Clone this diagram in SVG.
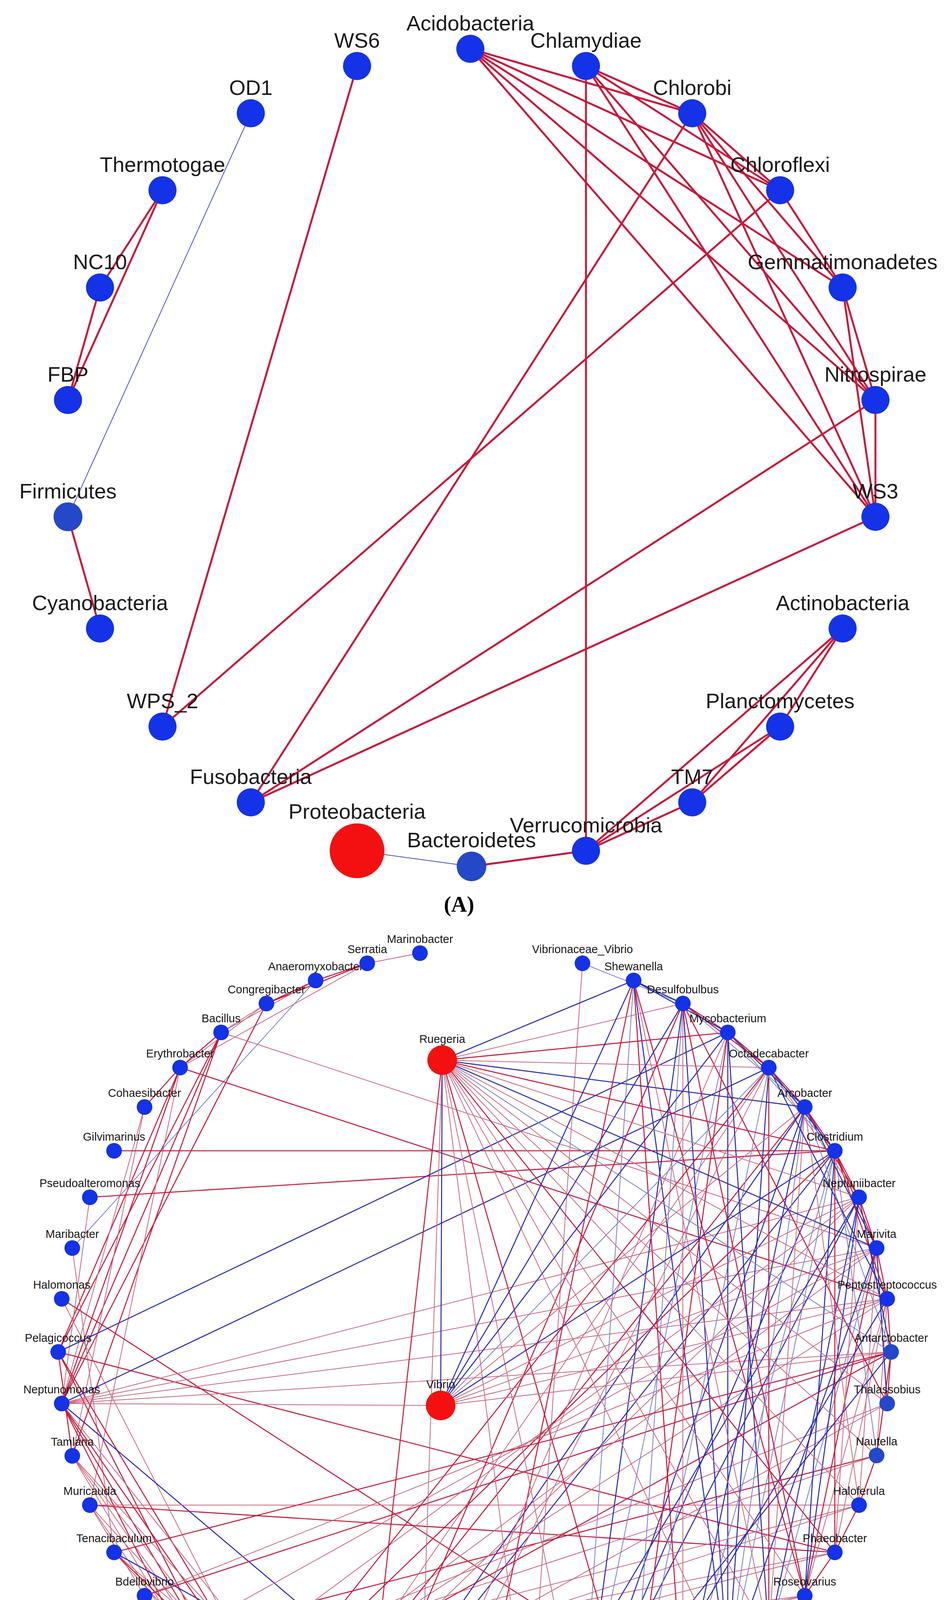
<svg xmlns="http://www.w3.org/2000/svg" width="2437" height="4614" viewBox="0 0 2437 4614">
<style>
.bg{fill:#fff}
.n{fill:#1432e8}
.d{fill:#2448c8}
.rd{fill:#f41010}
.g{fill:#5cb85c}
.la{font-family:"Liberation Sans",Arial,sans-serif;font-size:54px;fill:#1a1a1a;text-anchor:middle}
.lb{font-family:"Liberation Sans",Arial,sans-serif;font-size:29px;fill:#1a1a1a;text-anchor:middle}
.cap{font-family:"Liberation Serif","Times New Roman",serif;font-size:56px;font-weight:bold;fill:#000;text-anchor:middle}
.A line{stroke:#c8193c;stroke-width:5}
.A line.b{stroke:#4a52c0;stroke-width:2}
#edgesB line{stroke-width:2.6}
#edgesB .r{stroke:#c8193c}
#edgesB .p{stroke:#c86a80;stroke-width:2}
#edgesB .b{stroke:#2a2db5}
#edgesB .q{stroke:#7a80c8;stroke-width:2}
</style>
<rect class="bg" x="0" y="0" width="2437" height="4614"/>

<g id="edgesA" class="A">
<line x1="1204" y1="125" x2="1772" y2="290"/>
<line x1="1204" y1="125" x2="1997" y2="487"/>
<line x1="1204" y1="125" x2="2157" y2="736"/>
<line x1="1204" y1="125" x2="2241" y2="1024"/>
<line x1="1204" y1="125" x2="2241" y2="1323"/>
<line x1="1500" y1="169" x2="1772" y2="290"/>
<line x1="1500" y1="169" x2="1997" y2="487"/>
<line x1="1500" y1="169" x2="2241" y2="1024"/>
<line x1="1500" y1="169" x2="2241" y2="1323"/>
<line x1="1500" y1="169" x2="1500" y2="2178"/>
<line x1="1772" y1="290" x2="1997" y2="487"/>
<line x1="1772" y1="290" x2="2157" y2="736"/>
<line x1="1772" y1="290" x2="2241" y2="1024"/>
<line x1="1772" y1="290" x2="2241" y2="1323"/>
<line x1="1772" y1="290" x2="642" y2="2054"/>
<line x1="1997" y1="487" x2="2157" y2="736"/>
<line x1="1997" y1="487" x2="416" y2="1860"/>
<line x1="2157" y1="736" x2="2241" y2="1024"/>
<line x1="2157" y1="736" x2="2241" y2="1323"/>
<line x1="2241" y1="1024" x2="2241" y2="1323"/>
<line x1="2241" y1="1024" x2="642" y2="2054"/>
<line x1="2241" y1="1323" x2="642" y2="2054"/>
<line x1="2157" y1="1609" x2="1997" y2="1860"/>
<line x1="2157" y1="1609" x2="1772" y2="2054"/>
<line x1="2157" y1="1609" x2="1500" y2="2178"/>
<line x1="1997" y1="1860" x2="1772" y2="2054"/>
<line x1="1997" y1="1860" x2="1500" y2="2178"/>
<line x1="1772" y1="2054" x2="1500" y2="2178"/>
<line x1="1500" y1="2178" x2="1207" y2="2218"/>
<line class="b" x1="1207" y1="2218" x2="914" y2="2178"/>
<line x1="914" y1="169" x2="416" y2="1860"/>
<line class="b" x1="642" y1="290" x2="174" y2="1323"/>
<line x1="416" y1="487" x2="256" y2="736"/>
<line x1="416" y1="487" x2="174" y2="1024"/>
<line x1="256" y1="736" x2="174" y2="1024"/>
<line x1="174" y1="1323" x2="256" y2="1609"/>
</g>

<g id="nodesA">
<g id="Acidobacteria"><circle class="n" cx="1204" cy="125" r="36"/><text class="la" x="1204" y="78">Acidobacteria</text></g>
<g id="Chlamydiae"><circle class="n" cx="1500" cy="169" r="36"/><text class="la" x="1500" y="122">Chlamydiae</text></g>
<g id="Chlorobi"><circle class="n" cx="1772" cy="290" r="36"/><text class="la" x="1772" y="243">Chlorobi</text></g>
<g id="Chloroflexi"><circle class="n" cx="1997" cy="487" r="36"/><text class="la" x="1997" y="440">Chloroflexi</text></g>
<g id="Gemmatimonadetes"><circle class="n" cx="2157" cy="736" r="36"/><text class="la" x="2157" y="689">Gemmatimonadetes</text></g>
<g id="Nitrospirae"><circle class="n" cx="2241" cy="1024" r="36"/><text class="la" x="2241" y="977">Nitrospirae</text></g>
<g id="WS3"><circle class="n" cx="2241" cy="1323" r="36"/><text class="la" x="2241" y="1276">WS3</text></g>
<g id="Actinobacteria"><circle class="n" cx="2157" cy="1609" r="36"/><text class="la" x="2157" y="1562">Actinobacteria</text></g>
<g id="Planctomycetes"><circle class="n" cx="1997" cy="1860" r="36"/><text class="la" x="1997" y="1813">Planctomycetes</text></g>
<g id="TM7"><circle class="n" cx="1772" cy="2054" r="36"/><text class="la" x="1772" y="2007">TM7</text></g>
<g id="Verrucomicrobia"><circle class="n" cx="1500" cy="2178" r="36"/><text class="la" x="1500" y="2131">Verrucomicrobia</text></g>
<g id="Bacteroidetes"><circle class="d" cx="1207" cy="2218" r="38"/><text class="la" x="1207" y="2169">Bacteroidetes</text></g>
<g id="Proteobacteria"><circle class="rd" cx="914" cy="2178" r="70"/><text class="la" x="914" y="2096">Proteobacteria</text></g>
<g id="Fusobacteria"><circle class="n" cx="642" cy="2054" r="36"/><text class="la" x="642" y="2007">Fusobacteria</text></g>
<g id="WPS_2"><circle class="n" cx="416" cy="1860" r="36"/><text class="la" x="416" y="1813">WPS_2</text></g>
<g id="Cyanobacteria"><circle class="n" cx="256" cy="1609" r="36"/><text class="la" x="256" y="1562">Cyanobacteria</text></g>
<g id="Firmicutes"><circle class="d" cx="174" cy="1323" r="37"/><text class="la" x="174" y="1276">Firmicutes</text></g>
<g id="FBP"><circle class="n" cx="174" cy="1024" r="36"/><text class="la" x="174" y="977">FBP</text></g>
<g id="NC10"><circle class="n" cx="256" cy="736" r="36"/><text class="la" x="256" y="689">NC10</text></g>
<g id="Thermotogae"><circle class="n" cx="416" cy="487" r="36"/><text class="la" x="416" y="440">Thermotogae</text></g>
<g id="OD1"><circle class="n" cx="642" cy="290" r="36"/><text class="la" x="642" y="243">OD1</text></g>
<g id="WS6"><circle class="n" cx="914" cy="169" r="36"/><text class="la" x="914" y="122">WS6</text></g>
</g>
<text class="cap" x="1175" y="2334">(A)</text>

<g id="edgesB">
<line class="p" x1="1075" y1="2440" x2="940" y2="2466"/>
<line class="r" x1="940" y1="2466" x2="808" y2="2510"/>
<line class="r" x1="940" y1="2466" x2="682" y2="2569"/>
<line class="p" x1="940" y1="2466" x2="461" y2="2733"/>
<line class="r" x1="808" y1="2510" x2="682" y2="2569"/>
<line class="p" x1="808" y1="2510" x2="566" y2="2643"/>
<line class="q" x1="808" y1="2510" x2="185" y2="3195"/>
<line class="p" x1="682" y1="2569" x2="566" y2="2643"/>
<line class="r" x1="682" y1="2569" x2="158" y2="3593"/>
<line class="p" x1="682" y1="2569" x2="461" y2="2733"/>
<line class="r" x1="566" y1="2643" x2="461" y2="2733"/>
<line class="r" x1="566" y1="2643" x2="158" y2="3593"/>
<line class="r" x1="566" y1="2643" x2="185" y2="3727"/>
<line class="p" x1="566" y1="2643" x2="2244" y2="3195"/>
<line class="r" x1="566" y1="2643" x2="149" y2="3461"/>
<line class="r" x1="461" y1="2733" x2="2271" y2="3325"/>
<line class="r" x1="461" y1="2733" x2="149" y2="3461"/>
<line class="r" x1="461" y1="2733" x2="158" y2="3593"/>
<line class="r" x1="461" y1="2733" x2="370" y2="2834"/>
<line class="p" x1="461" y1="2733" x2="230" y2="3853"/>
<line class="p" x1="370" y1="2834" x2="158" y2="3593"/>
<line class="p" x1="370" y1="2834" x2="185" y2="3727"/>
<line class="r" x1="292" y1="2946" x2="2137" y2="2946"/>
<line class="r" x1="230" y1="3065" x2="2137" y2="2946"/>
<line class="p" x1="230" y1="3065" x2="158" y2="3593"/>
<line class="p" x1="185" y1="3195" x2="292" y2="3974"/>
<line class="r" x1="158" y1="3325" x2="1748" y2="4352"/>
<line class="p" x1="158" y1="3325" x2="682" y2="4350"/>
<line class="b" x1="149" y1="3461" x2="1863" y2="2643"/>
<line class="r" x1="149" y1="3461" x2="185" y2="3727"/>
<line class="r" x1="149" y1="3461" x2="566" y2="4275"/>
<line class="r" x1="149" y1="3461" x2="682" y2="4350"/>
<line class="r" x1="149" y1="3461" x2="2137" y2="3974"/>
<line class="b" x1="158" y1="3593" x2="1968" y2="2733"/>
<line class="p" x1="158" y1="3593" x2="2281" y2="3461"/>
<line class="p" x1="158" y1="3593" x2="2271" y2="3325"/>
<line class="p" x1="158" y1="3593" x2="2244" y2="3195"/>
<line class="p" x1="158" y1="3593" x2="2199" y2="3065"/>
<line class="b" x1="158" y1="3593" x2="1216" y2="4487"/>
<line class="r" x1="158" y1="3593" x2="682" y2="4350"/>
<line class="r" x1="158" y1="3593" x2="566" y2="4275"/>
<line class="r" x1="158" y1="3593" x2="461" y2="4187"/>
<line class="p" x1="158" y1="3593" x2="808" y2="4410"/>
<line class="p" x1="185" y1="3727" x2="682" y2="4350"/>
<line class="p" x1="185" y1="3727" x2="566" y2="4275"/>
<line class="p" x1="185" y1="3727" x2="808" y2="4410"/>
<line class="p" x1="185" y1="3727" x2="461" y2="4187"/>
<line class="p" x1="230" y1="3853" x2="370" y2="4085"/>
<line class="p" x1="230" y1="3853" x2="461" y2="4187"/>
<line class="p" x1="230" y1="3853" x2="682" y2="4350"/>
<line class="r" x1="230" y1="3853" x2="2137" y2="3974"/>
<line class="p" x1="230" y1="3853" x2="2199" y2="3853"/>
<line class="p" x1="292" y1="3974" x2="808" y2="4410"/>
<line class="p" x1="292" y1="3974" x2="566" y2="4275"/>
<line class="b" x1="292" y1="3974" x2="1216" y2="4487"/>
<line class="r" x1="292" y1="3974" x2="682" y2="4350"/>
<line class="r" x1="370" y1="4085" x2="2281" y2="3461"/>
<line class="p" x1="370" y1="4085" x2="566" y2="4275"/>
<line class="r" x1="461" y1="4187" x2="2244" y2="3726"/>
<line class="p" x1="461" y1="4187" x2="808" y2="4410"/>
<line class="r" x1="566" y1="4275" x2="1863" y2="4275"/>
<line class="p" x1="566" y1="4275" x2="2060" y2="4085"/>
<line class="p" x1="566" y1="4275" x2="2137" y2="3974"/>
<line class="p" x1="566" y1="4275" x2="1968" y2="4187"/>
<line class="p" x1="566" y1="4275" x2="2199" y2="3853"/>
<line class="p" x1="566" y1="4275" x2="2244" y2="3726"/>
<line class="p" x1="566" y1="4275" x2="2271" y2="3593"/>
<line class="r" x1="682" y1="4350" x2="2281" y2="3461"/>
<line class="p" x1="682" y1="4350" x2="2271" y2="3325"/>
<line class="p" x1="682" y1="4350" x2="2244" y2="3195"/>
<line class="p" x1="682" y1="4350" x2="2060" y2="4085"/>
<line class="p" x1="682" y1="4350" x2="2137" y2="3974"/>
<line class="p" x1="682" y1="4350" x2="2199" y2="3853"/>
<line class="r" x1="682" y1="4350" x2="808" y2="4410"/>
<line class="p" x1="808" y1="4410" x2="2199" y2="3065"/>
<line class="p" x1="808" y1="4410" x2="2271" y2="3593"/>
<line class="p" x1="808" y1="4410" x2="2060" y2="4085"/>
<line class="p" x1="808" y1="4410" x2="1968" y2="4187"/>
<line class="r" x1="808" y1="4410" x2="2060" y2="2834"/>
<line class="r" x1="940" y1="4454" x2="1075" y2="4478"/>
<line class="p" x1="940" y1="4454" x2="1355" y2="4478"/>
<line class="p" x1="940" y1="4454" x2="1216" y2="4487"/>
<line class="b" x1="940" y1="4454" x2="2137" y2="2946"/>
<line class="b" x1="940" y1="4454" x2="2060" y2="2834"/>
<line class="p" x1="1075" y1="4478" x2="1216" y2="4487"/>
<line class="p" x1="1075" y1="4478" x2="1968" y2="2733"/>
<line class="p" x1="1216" y1="4487" x2="1355" y2="4478"/>
<line class="q" x1="1216" y1="4487" x2="1491" y2="4452"/>
<line class="p" x1="1491" y1="2466" x2="1355" y2="4478"/>
<line class="q" x1="1491" y1="2466" x2="1748" y2="2569"/>
<line class="b" x1="1491" y1="4452" x2="2060" y2="2834"/>
<line class="b" x1="1491" y1="4452" x2="2137" y2="2946"/>
<line class="b" x1="1491" y1="4452" x2="2199" y2="3065"/>
<line class="q" x1="1491" y1="4452" x2="1863" y2="2643"/>
<line class="q" x1="1491" y1="4452" x2="1622" y2="2510"/>
<line class="b" x1="1491" y1="4452" x2="1748" y2="2569"/>
<line class="r" x1="1491" y1="4452" x2="1622" y2="4411"/>
<line class="r" x1="1622" y1="4411" x2="1132" y2="2714"/>
<line class="q" x1="1622" y1="4411" x2="1748" y2="2569"/>
<line class="q" x1="1622" y1="4411" x2="1968" y2="2733"/>
<line class="r" x1="1622" y1="4411" x2="1748" y2="4352"/>
<line class="r" x1="1748" y1="4352" x2="1622" y2="2510"/>
<line class="r" x1="1748" y1="4352" x2="1863" y2="4275"/>
<line class="b" x1="1863" y1="4275" x2="1622" y2="2510"/>
<line class="b" x1="1863" y1="4275" x2="1748" y2="2569"/>
<line class="b" x1="1863" y1="4275" x2="1863" y2="2643"/>
<line class="b" x1="1863" y1="4275" x2="1968" y2="2733"/>
<line class="q" x1="1863" y1="4275" x2="2060" y2="2834"/>
<line class="q" x1="1863" y1="4275" x2="2137" y2="2946"/>
<line class="r" x1="1863" y1="4275" x2="1968" y2="4187"/>
<line class="r" x1="1863" y1="4275" x2="2060" y2="4085"/>
<line class="b" x1="1968" y1="4187" x2="2199" y2="3065"/>
<line class="q" x1="1968" y1="4187" x2="2244" y2="3195"/>
<line class="r" x1="1968" y1="4187" x2="1968" y2="2733"/>
<line class="p" x1="1968" y1="4187" x2="2060" y2="2834"/>
<line class="r" x1="1968" y1="4187" x2="2060" y2="4085"/>
<line class="r" x1="2060" y1="4085" x2="2244" y2="3195"/>
<line class="p" x1="2060" y1="4085" x2="2271" y2="3325"/>
<line class="b" x1="2060" y1="4085" x2="2199" y2="3065"/>
<line class="b" x1="2060" y1="4085" x2="2137" y2="2946"/>
<line class="r" x1="2060" y1="4085" x2="2137" y2="3974"/>
<line class="p" x1="2137" y1="3974" x2="2199" y2="3065"/>
<line class="p" x1="2137" y1="3974" x2="2271" y2="3325"/>
<line class="r" x1="2137" y1="3974" x2="2137" y2="2946"/>
<line class="r" x1="2137" y1="3974" x2="2199" y2="3853"/>
<line class="p" x1="2199" y1="3853" x2="2244" y2="3195"/>
<line class="p" x1="2199" y1="3853" x2="2060" y2="2834"/>
<line class="r" x1="2199" y1="3853" x2="2244" y2="3726"/>
<line class="p" x1="2244" y1="3726" x2="2271" y2="3325"/>
<line class="r" x1="2244" y1="3726" x2="2281" y2="3461"/>
<line class="q" x1="2244" y1="3726" x2="2137" y2="2946"/>
<line class="r" x1="2271" y1="3593" x2="2281" y2="3461"/>
<line class="b" x1="2271" y1="3593" x2="2244" y2="3195"/>
<line class="r" x1="2271" y1="3593" x2="1748" y2="2569"/>
<line class="r" x1="2281" y1="3461" x2="2271" y2="3325"/>
<line class="b" x1="2281" y1="3461" x2="2199" y2="3065"/>
<line class="q" x1="2281" y1="3461" x2="2060" y2="2834"/>
<line class="r" x1="2271" y1="3325" x2="2244" y2="3195"/>
<line class="r" x1="2271" y1="3325" x2="2137" y2="2946"/>
<line class="b" x1="2271" y1="3325" x2="1968" y2="2733"/>
<line class="r" x1="2244" y1="3195" x2="2199" y2="3065"/>
<line class="b" x1="2244" y1="3195" x2="2060" y2="2834"/>
<line class="r" x1="2244" y1="3195" x2="2137" y2="2946"/>
<line class="r" x1="2199" y1="3065" x2="2137" y2="2946"/>
<line class="r" x1="2199" y1="3065" x2="2060" y2="2834"/>
<line class="p" x1="2199" y1="3065" x2="1968" y2="2733"/>
<line class="r" x1="2137" y1="2946" x2="2060" y2="2834"/>
<line class="b" x1="2137" y1="2946" x2="1968" y2="2733"/>
<line class="q" x1="2137" y1="2946" x2="1863" y2="2643"/>
<line class="r" x1="2060" y1="2834" x2="1968" y2="2733"/>
<line class="b" x1="2060" y1="2834" x2="1863" y2="2643"/>
<line class="q" x1="2060" y1="2834" x2="1748" y2="2569"/>
<line class="r" x1="1968" y1="2733" x2="1863" y2="2643"/>
<line class="r" x1="1968" y1="2733" x2="1748" y2="2569"/>
<line class="r" x1="1863" y1="2643" x2="1748" y2="2569"/>
<line class="b" x1="1748" y1="2569" x2="1622" y2="2510"/>
<line class="b" x1="1863" y1="2643" x2="1622" y2="2510"/>
<line class="r" x1="2137" y1="2946" x2="682" y2="4350"/>
<line class="p" x1="2199" y1="3065" x2="566" y2="4275"/>
<line class="p" x1="2244" y1="3195" x2="461" y2="4187"/>
<line class="p" x1="2271" y1="3325" x2="370" y2="4085"/>
<line class="r" x1="2281" y1="3461" x2="292" y2="3974"/>
<line class="p" x1="1968" y1="2733" x2="808" y2="4410"/>
<line class="r" x1="1863" y1="2643" x2="1622" y2="4411"/>
<line class="p" x1="1748" y1="2569" x2="1748" y2="4352"/>
<line class="r" x1="1622" y1="2510" x2="2060" y2="4085"/>
<line class="p" x1="1622" y1="2510" x2="1968" y2="4187"/>
<line class="r" x1="1748" y1="2569" x2="2060" y2="4085"/>
<line class="b" x1="1863" y1="2643" x2="1968" y2="4187"/>
<line class="r" x1="1622" y1="2510" x2="1216" y2="4487"/>
<line class="r" x1="1748" y1="2569" x2="940" y2="4454"/>
<line class="p" x1="1863" y1="2643" x2="1075" y2="4478"/>
<line class="r" x1="1968" y1="2733" x2="682" y2="4350"/>
<line class="b" x1="2060" y1="2834" x2="1748" y2="4352"/>
<line class="q" x1="2137" y1="2946" x2="1748" y2="4352"/>
<line class="b" x1="2199" y1="3065" x2="1355" y2="4478"/>
<line class="b" x1="2244" y1="3195" x2="1863" y2="4275"/>
<line class="b" x1="2271" y1="3325" x2="1622" y2="4411"/>
<line class="b" x1="2281" y1="3461" x2="1491" y2="4452"/>
<line class="b" x1="1132" y1="2714" x2="1128" y2="3598"/>
<line class="b" x1="1132" y1="2714" x2="1622" y2="2510"/>
<line class="r" x1="1132" y1="2714" x2="1863" y2="2643"/>
<line class="p" x1="1132" y1="2714" x2="1748" y2="2569"/>
<line class="p" x1="1132" y1="2714" x2="1968" y2="2733"/>
<line class="b" x1="1132" y1="2714" x2="2060" y2="2834"/>
<line class="r" x1="1132" y1="2714" x2="2137" y2="2946"/>
<line class="p" x1="1132" y1="2714" x2="2199" y2="3065"/>
<line class="b" x1="1132" y1="2714" x2="2244" y2="3195"/>
<line class="p" x1="1132" y1="2714" x2="2271" y2="3325"/>
<line class="q" x1="1132" y1="2714" x2="2281" y2="3461"/>
<line class="p" x1="1132" y1="2714" x2="2271" y2="3593"/>
<line class="p" x1="1132" y1="2714" x2="2244" y2="3726"/>
<line class="p" x1="1132" y1="2714" x2="2199" y2="3853"/>
<line class="r" x1="1132" y1="2714" x2="2137" y2="3974"/>
<line class="p" x1="1132" y1="2714" x2="2060" y2="4085"/>
<line class="p" x1="1132" y1="2714" x2="1968" y2="4187"/>
<line class="p" x1="1132" y1="2714" x2="1863" y2="4275"/>
<line class="p" x1="1132" y1="2714" x2="1491" y2="4452"/>
<line class="p" x1="1132" y1="2714" x2="1355" y2="4478"/>
<line class="r" x1="1132" y1="2714" x2="940" y2="4454"/>
<line class="p" x1="1132" y1="2714" x2="1075" y2="4478"/>
<line class="b" x1="1128" y1="3598" x2="1622" y2="2510"/>
<line class="b" x1="1128" y1="3598" x2="1748" y2="2569"/>
<line class="b" x1="1128" y1="3598" x2="1863" y2="2643"/>
<line class="q" x1="1128" y1="3598" x2="1968" y2="2733"/>
<line class="p" x1="1128" y1="3598" x2="2060" y2="2834"/>
<line class="b" x1="1128" y1="3598" x2="2137" y2="2946"/>
<line class="p" x1="1128" y1="3598" x2="2199" y2="3065"/>
<line class="p" x1="1128" y1="3598" x2="2244" y2="3195"/>
<line class="p" x1="1128" y1="3598" x2="2271" y2="3325"/>
<line class="p" x1="1128" y1="3598" x2="2281" y2="3461"/>
<line class="p" x1="1128" y1="3598" x2="158" y2="3593"/>
</g>

<g id="nodesB">
<g id="Ruegeria"><circle class="rd" cx="1132" cy="2714" r="38"/><text class="lb" x="1132" y="2670">Ruegeria</text></g>
<g id="Vibrio"><circle class="rd" cx="1128" cy="3598" r="38"/><text class="lb" x="1128" y="3554">Vibrio</text></g>
<g id="Vibrionaceae_Vibrio"><circle class="n" cx="1491" cy="2466" r="20"/><text class="lb" x="1491" y="2440">Vibrionaceae_Vibrio</text></g>
<g id="Shewanella"><circle class="n" cx="1622" cy="2510" r="20"/><text class="lb" x="1622" y="2484">Shewanella</text></g>
<g id="Desulfobulbus"><circle class="n" cx="1748" cy="2569" r="20"/><text class="lb" x="1748" y="2543">Desulfobulbus</text></g>
<g id="Mycobacterium"><circle class="n" cx="1863" cy="2643" r="20"/><text class="lb" x="1863" y="2617">Mycobacterium</text></g>
<g id="Octadecabacter"><circle class="n" cx="1968" cy="2733" r="20"/><text class="lb" x="1968" y="2707">Octadecabacter</text></g>
<g id="Arcobacter"><circle class="n" cx="2060" cy="2834" r="20"/><text class="lb" x="2060" y="2808">Arcobacter</text></g>
<g id="Clostridium"><circle class="n" cx="2137" cy="2946" r="20"/><text class="lb" x="2137" y="2920">Clostridium</text></g>
<g id="Neptuniibacter"><circle class="n" cx="2199" cy="3065" r="20"/><text class="lb" x="2199" y="3039">Neptuniibacter</text></g>
<g id="Marivita"><circle class="n" cx="2244" cy="3195" r="20"/><text class="lb" x="2244" y="3169">Marivita</text></g>
<g id="Peptostreptococcus"><circle class="n" cx="2271" cy="3325" r="20"/><text class="lb" x="2271" y="3299">Peptostreptococcus</text></g>
<g id="Antarctobacter"><circle class="d" cx="2281" cy="3461" r="20"/><text class="lb" x="2281" y="3435">Antarctobacter</text></g>
<g id="Thalassobius"><circle class="d" cx="2271" cy="3593" r="20"/><text class="lb" x="2271" y="3567">Thalassobius</text></g>
<g id="Nautella"><circle class="d" cx="2244" cy="3726" r="20"/><text class="lb" x="2244" y="3700">Nautella</text></g>
<g id="Haloferula"><circle class="n" cx="2199" cy="3853" r="20"/><text class="lb" x="2199" y="3827">Haloferula</text></g>
<g id="Phaeobacter"><circle class="n" cx="2137" cy="3974" r="20"/><text class="lb" x="2137" y="3948">Phaeobacter</text></g>
<g id="Roseovarius"><circle class="n" cx="2060" cy="4085" r="20"/><text class="lb" x="2060" y="4059">Roseovarius</text></g>
<g id="Amaricoccus"><circle class="n" cx="1968" cy="4187" r="20"/><text class="lb" x="1968" y="4161">Amaricoccus</text></g>
<g id="Anaerospora"><circle class="n" cx="1863" cy="4275" r="20"/><text class="lb" x="1863" y="4249">Anaerospora</text></g>
<g id="Paracoccus"><circle class="n" cx="1748" cy="4352" r="20"/><text class="lb" x="1748" y="4326">Paracoccus</text></g>
<g id="Fusibacter"><circle class="g" cx="1622" cy="4411" r="26"/><text class="lb" x="1622" y="4379">Fusibacter</text></g>
<g id="Photobacterium"><circle class="g" cx="1491" cy="4452" r="26"/><text class="lb" x="1480" y="4420">Photobacterium</text></g>
<g id="Achromobacter"><circle class="n" cx="1355" cy="4478" r="20"/><text class="lb" x="1340" y="4450">Achromobacter</text></g>
<g id="Ralstonia"><circle class="n" cx="1216" cy="4487" r="20"/><text class="lb" x="1214" y="4461">Ralstonia</text></g>
<g id="Shimia"><circle class="n" cx="1075" cy="4478" r="20"/><text class="lb" x="1075" y="4452">Shimia</text></g>
<g id="Labrenzia"><circle class="n" cx="940" cy="4454" r="20"/><text class="lb" x="940" y="4428">Labrenzia</text></g>
<g id="Lutimonas"><circle class="d" cx="808" cy="4410" r="20"/><text class="lb" x="808" y="4384">Lutimonas</text></g>
<g id="Ilumatobacter"><circle class="n" cx="682" cy="4350" r="20"/><text class="lb" x="682" y="4324">Ilumatobacter</text></g>
<g id="Demequina"><circle class="n" cx="566" cy="4275" r="20"/><text class="lb" x="566" y="4249">Demequina</text></g>
<g id="Formosa"><circle class="n" cx="461" cy="4187" r="20"/><text class="lb" x="461" y="4161">Formosa</text></g>
<g id="Bdellovibrio"><circle class="n" cx="370" cy="4085" r="20"/><text class="lb" x="370" y="4059">Bdellovibrio</text></g>
<g id="Tenacibaculum"><circle class="n" cx="292" cy="3974" r="20"/><text class="lb" x="292" y="3948">Tenacibaculum</text></g>
<g id="Muricauda"><circle class="n" cx="230" cy="3853" r="20"/><text class="lb" x="230" y="3827">Muricauda</text></g>
<g id="Tamlana"><circle class="n" cx="185" cy="3727" r="20"/><text class="lb" x="185" y="3701">Tamlana</text></g>
<g id="Neptunomonas"><circle class="n" cx="158" cy="3593" r="20"/><text class="lb" x="158" y="3567">Neptunomonas</text></g>
<g id="Pelagicoccus"><circle class="n" cx="149" cy="3461" r="20"/><text class="lb" x="149" y="3435">Pelagicoccus</text></g>
<g id="Halomonas"><circle class="n" cx="158" cy="3325" r="20"/><text class="lb" x="158" y="3299">Halomonas</text></g>
<g id="Maribacter"><circle class="n" cx="185" cy="3195" r="20"/><text class="lb" x="185" y="3169">Maribacter</text></g>
<g id="Pseudoalteromonas"><circle class="n" cx="230" cy="3065" r="20"/><text class="lb" x="230" y="3039">Pseudoalteromonas</text></g>
<g id="Gilvimarinus"><circle class="n" cx="292" cy="2946" r="20"/><text class="lb" x="292" y="2920">Gilvimarinus</text></g>
<g id="Cohaesibacter"><circle class="n" cx="370" cy="2834" r="20"/><text class="lb" x="370" y="2808">Cohaesibacter</text></g>
<g id="Erythrobacter"><circle class="n" cx="461" cy="2733" r="20"/><text class="lb" x="461" y="2707">Erythrobacter</text></g>
<g id="Bacillus"><circle class="n" cx="566" cy="2643" r="20"/><text class="lb" x="566" y="2617">Bacillus</text></g>
<g id="Congregibacter"><circle class="n" cx="682" cy="2569" r="20"/><text class="lb" x="682" y="2543">Congregibacter</text></g>
<g id="Anaeromyxobacter"><circle class="n" cx="808" cy="2510" r="20"/><text class="lb" x="808" y="2484">Anaeromyxobacter</text></g>
<g id="Serratia"><circle class="n" cx="940" cy="2466" r="20"/><text class="lb" x="940" y="2440">Serratia</text></g>
<g id="Marinobacter"><circle class="n" cx="1075" cy="2440" r="20"/><text class="lb" x="1075" y="2414">Marinobacter</text></g>
</g>
<text class="cap" x="1183" y="4575">(B)</text>
</svg>
